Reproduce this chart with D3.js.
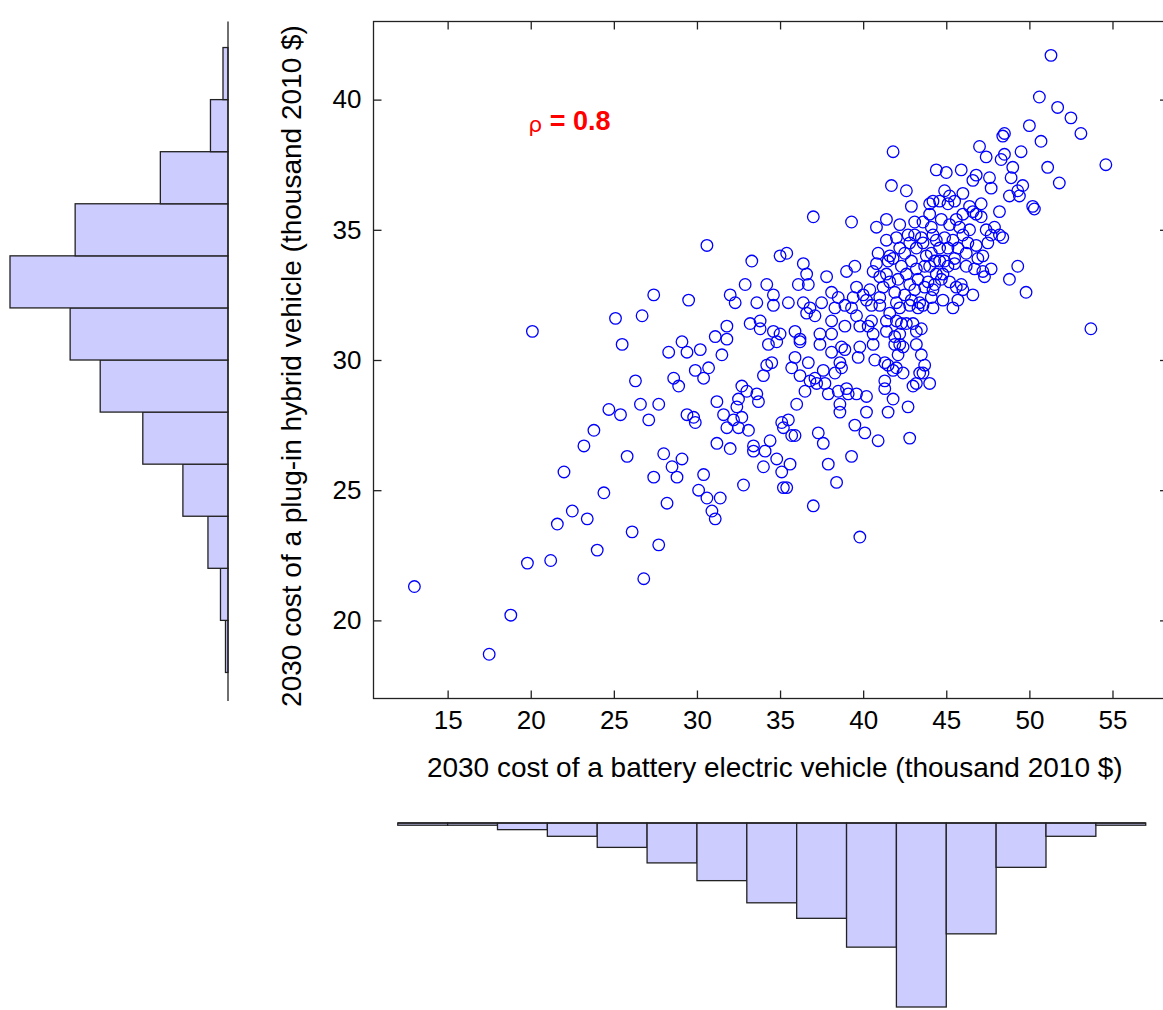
<!DOCTYPE html>
<html>
<head>
<meta charset="utf-8">
<script src="https://cdn.jsdelivr.net/npm/d3@7"></script>
<style>
  body { margin: 0; background: #fff; }
  svg { display: block; font-family: "Liberation Sans", Arial, sans-serif; }
</style>
</head>
<body>
<svg id="chart" width="1163" height="1010"></svg>
<script>
// 2030 cost pairs (thousand 2010 $): [battery electric, plug-in hybrid]
const costPairs = [
  [25.5,30.6],[28.3,30.3],[29.1,30.7],[29.4,30.3],[30.2,30.4],[31.5,30.2],[29.9,29.6],[30.7,29.7],[30.4,29.3],[26.3,29.2],
  [28.6,29.3],[28.9,29.0],[32.7,29.0],[33.0,28.8],[33.6,28.7],[33.7,28.4],[32.5,28.5],[31.2,28.4],[31.6,27.9],[32.4,28.2],
  [32.2,27.7],[32.7,27.8],[32.5,27.4],[31.8,27.4],[33.1,27.3],[33.4,26.7],[33.4,26.5],[34.1,26.5],[34.0,25.9],[34.4,26.9],
  [31.2,26.8],[32.0,26.6],[24.7,28.1],[25.4,27.9],[26.6,28.3],[27.7,28.3],[27.1,27.7],[29.4,27.9],[29.8,27.8],[29.9,27.6],
  [23.8,27.3],[23.2,26.7],[25.8,26.3],[28.0,26.4],[29.1,26.2],[28.5,25.9],[28.8,25.5],[27.4,25.5],[30.4,25.6],[22.0,25.7],
  [24.4,24.9],[30.1,25.0],[30.6,24.7],[31.4,24.7],[30.9,24.2],[31.1,23.9],[32.8,25.2],[22.5,24.2],[21.6,23.7],[23.4,23.9],
  [28.2,24.5],[26.1,23.4],[24.0,22.7],[27.7,22.9],[19.8,22.2],[21.2,22.3],[26.8,21.6],[13.0,21.3],[18.8,20.2],[17.5,18.7],
  [34.3,30.6],[34.2,29.8],[34.0,29.4],
  [30.6,34.4],[33.3,33.8],[32.9,32.9],[34.2,32.9],[27.4,32.5],[29.5,32.3],[32.0,32.5],[32.3,32.2],[33.6,32.2],[25.1,31.6],
  [26.7,31.7],[31.8,31.3],[33.2,31.4],[33.8,31.5],[33.8,31.2],[20.1,31.1],[31.1,30.9],[31.8,30.8],
  [34.8,30.7],[36.2,30.7],[37.4,30.6],[38.1,30.3],[38.7,30.5],[38.9,30.4],[39.8,30.5],[39.7,30.1],[40.6,30.6],[40.7,30.0],
  [41.3,29.9],[41.9,30.6],[42.2,30.6],[42.1,30.2],[42.4,30.5],[43.2,30.6],[43.5,30.2],[43.7,29.8],[43.6,29.5],[43.4,29.5],
  [44.0,29.1],[43.2,29.1],[43.0,29.0],[42.4,29.5],[41.8,29.6],[41.5,29.8],[41.3,29.2],[41.3,28.9],[41.8,28.5],[41.5,28.0],
  [42.7,28.2],[42.8,27.0],[40.2,28.6],[40.2,28.0],[39.5,27.5],[40.1,27.2],[40.9,26.9],[39.3,26.3],[38.4,25.3],[37.9,26.0],
  [37.6,26.8],[37.3,27.2],[37.0,24.4],[39.8,23.2],[35.9,30.1],[36.7,29.9],[35.7,29.7],[36.2,29.4],[37.6,29.6],[38.3,29.5],
  [36.8,29.2],[37.2,29.1],[37.7,29.1],[37.9,28.7],[38.5,28.8],[39.0,28.9],[39.1,28.7],[39.6,28.7],[38.6,28.3],[38.6,28.0],
  [36.5,28.8],[36.0,28.3],[35.5,27.7],[35.1,27.6],[35.2,27.4],[35.7,27.1],[35.9,27.1],[34.8,26.2],[35.6,26.0],[35.1,25.7],
  [35.2,25.1],[35.4,25.1],[34.5,29.9],[38.6,29.9],[38.7,29.7],[37.1,29.3],[42.0,29.7],
  [51.3,41.7],[50.6,40.1],[51.7,39.7],[52.5,39.3],[53.1,38.7],[50.0,39.0],[50.7,38.4],[51.1,37.4],[51.8,36.8],[54.6,37.5],
  [53.7,31.2],[48.5,38.7],[48.4,38.6],[47.0,38.2],[47.4,37.8],[48.5,37.9],[48.3,37.7],[49.5,38.0],[49.0,37.4],[48.9,37.0],
  [49.6,36.7],[49.3,36.5],[48.8,36.3],[49.4,36.3],[50.2,35.9],[50.3,35.8],[48.2,35.7],[41.8,38.0],[37.0,35.5],[39.3,35.3],
  [41.7,36.7],[42.6,36.5],[42.9,35.9],
  [44.4,37.3],[45.0,37.2],[45.9,37.3],[46.8,37.1],[46.6,36.9],[47.6,37.0],[47.7,36.6],[46.0,36.4],[44.9,36.5],[44.2,36.1],
  [44.6,36.1],[45.2,36.3],[45.5,36.1],[45.1,36.0],[46.4,35.9],[46.6,35.7],[46.8,35.6],[47.1,36.0],[46.0,35.6],[47.1,35.5],
  [44.7,35.4],[45.2,35.2],[45.6,35.4],[44.0,36.0],[44.0,35.6],[47.4,35.0],[47.9,35.1],[48.2,34.8],[48.4,34.7],[47.7,34.8],
  [46.8,34.4],[47.5,34.5],[47.2,34.0],[46.2,34.1],[46.9,33.9],[46.2,33.6],[46.7,33.5],[47.2,33.4],[47.7,33.5],[49.3,33.6],
  [48.8,33.1],[49.8,32.6],[46.6,32.5],[45.9,32.9],[46.0,32.7],[45.6,32.8],[45.2,33.0],[44.4,33.3],[44.8,33.3],[44.7,33.1],
  [44.3,32.9],[45.5,33.7],[44.9,33.8],[44.6,33.8],[45.1,33.6],[45.4,32.0],[45.7,32.3],[44.8,32.3],[44.2,32.0],
  [45.5,33.9],[45.7,34.3],[45.1,34.3],[44.6,34.3],[44.4,34.6],[44.9,34.7],[45.4,34.6],
  [36.4,32.2],[36.6,31.8],[37.1,31.7],[36.8,32.0],[37.5,32.2],[38.3,32.0],[38.9,32.1],[39.6,31.7],[39.8,31.3],[40.3,31.3],
  [40.5,32.1],[41.0,32.1],[40.5,31.5],[40.6,31.0],[41.6,31.8],[42.2,32.0],[42.8,32.1],[43.3,32.0],[41.4,31.5],[42.0,31.5],
  [42.3,31.4],[42.6,31.4],[43.0,31.4],[43.2,31.1],[43.5,31.2],[35.9,31.1],[36.2,30.8],[37.4,31.0],[38.1,31.0],[38.1,31.5],
  [38.9,31.3],[41.9,30.9],[39.3,32.0],[42.2,31.0],[41.4,31.1],[43.6,32.1],
  [34.6,32.1],[35.5,32.2],[34.6,32.5],[35.0,31.0],[34.6,31.1],[35.0,34.0],[35.4,34.1],
  [41.4,35.4],[40.8,35.1],[42.2,35.2],[43.1,35.3],[43.6,35.3],[36.4,33.7],[36.6,33.3],[36.1,32.9],[36.7,32.9],[37.8,33.2],
  [39.0,33.4],[39.5,33.6],[38.1,32.6],[38.5,32.4],[41.4,34.6],[42.0,34.7],[42.7,34.8],[43.1,34.8],[42.2,34.3],[42.8,34.5],
  [42.5,34.1],[43.2,34.3],[43.6,34.5],[40.9,34.1],[41.6,34.0],[41.5,33.8],[40.8,33.7],[40.6,33.4],[41.0,33.2],[41.4,33.3],
  [40.0,32.5],[39.6,32.8],[40.4,32.7],[40.2,32.3],[39.4,32.4],
  [41.8,33.9],[42.3,33.6],[42.9,33.8],[42.6,33.3],[43.2,33.5],[43.7,33.6],[41.6,33.0],[42.1,33.1],[42.8,32.9],[43.3,33.1],
  [43.9,33.0],[41.2,32.8],[41.9,32.6],[42.5,32.5],[43.1,32.7],[43.7,32.8],[41.0,32.4],[42.0,32.2],[42.9,32.3],[43.4,32.2],
  [43.8,34.0],[43.5,34.7],[44.1,35.1],[44.2,34.8],[44.1,34.1],[44.3,33.8],[44.0,33.6],[44.2,32.7],[44.1,32.4],
  [46.0,34.8],[46.4,35.0],[46.3,34.5],[45.8,35.1],[47.3,33.2]
];

// marginal histogram of the plug-in hybrid cost (left)
const phevBins = [18, 20, 22, 24, 26, 28, 30, 32, 34, 36, 38, 40, 42];
const phevCounts = [1, 3, 8, 18, 34, 51, 63, 87, 61, 27, 7, 2];

// marginal histogram of the battery electric cost (bottom)
const bevBins = [12, 15, 18, 21, 24, 27, 30, 33, 36, 39, 42, 45, 48, 51, 54, 57];
const bevCounts = [1, 1, 3, 6, 11, 18, 26, 36, 43, 56, 83, 50, 20, 6, 1];

const xTicks = [15, 20, 25, 30, 35, 40, 45, 50, 55];
const yTicks = [20, 25, 30, 35, 40];

const rhoText = "0.8";
const xTitle = "2030 cost of a battery electric vehicle (thousand 2010 $)";
const yTitle = "2030 cost of a plug-in hybrid vehicle (thousand 2010 $)";

const svg = d3.select("#chart");

const plotL = 373.5, plotR = 1168, plotT = 21.5, plotB = 698.5;

const x = d3.scaleLinear().domain([10.54, 58.34]).range([plotL, plotR]);
const y = d3.scaleLinear().domain([17, 43]).range([plotB, plotT]);

// ---- scatter axes (box with inward ticks) ----
const tickLen = 8;

svg.append("g")
  .attr("transform", `translate(0,${plotB})`)
  .call(d3.axisBottom(x).tickValues(xTicks).tickSizeInner(-tickLen).tickSizeOuter(0).tickPadding(12))
  .call(g => g.select(".domain").remove());

svg.append("g")
  .attr("transform", `translate(0,${plotT})`)
  .call(d3.axisTop(x).tickValues(xTicks).tickSizeInner(-tickLen).tickSizeOuter(0).tickFormat(""))
  .call(g => g.select(".domain").remove());

svg.append("g")
  .attr("transform", `translate(${plotL},0)`)
  .call(d3.axisLeft(y).tickValues(yTicks).tickSizeInner(-tickLen).tickSizeOuter(0).tickPadding(12))
  .call(g => g.select(".domain").remove());

svg.append("g")
  .attr("transform", `translate(${plotR},0)`)
  .call(d3.axisRight(y).tickValues(yTicks).tickSizeInner(-tickLen).tickSizeOuter(0).tickFormat(""))
  .call(g => g.select(".domain").remove());

svg.selectAll(".tick line").attr("stroke", "#222").attr("stroke-width", 1.3);
svg.selectAll(".tick text")
  .attr("font-size", 26)
  .attr("font-family", "Liberation Sans, Arial, sans-serif")
  .attr("fill", "#000");

svg.append("rect")
  .attr("x", plotL).attr("y", plotT)
  .attr("width", plotR - plotL).attr("height", plotB - plotT)
  .attr("fill", "none").attr("stroke", "#222").attr("stroke-width", 1.3);

// ---- points ----
svg.append("g")
  .selectAll("circle")
  .data(costPairs)
  .join("circle")
  .attr("cx", d => x(d[0]))
  .attr("cy", d => y(d[1]))
  .attr("r", 5.8)
  .attr("fill", "none")
  .attr("stroke", "#0000ff")
  .attr("stroke-width", 1.3);

// correlation note
const rho = svg.append("text")
  .attr("x", x(19.85))
  .attr("y", y(38.85))
  .attr("fill", "#ff0000")
  .attr("font-size", 27);
rho.append("tspan").attr("font-family", "DejaVu Sans, sans-serif").attr("font-size", 22).attr("dy", 2).text("ρ");
rho.append("tspan").attr("font-weight", "bold").attr("dy", -2).text(" = " + rhoText);

// axis titles
svg.append("text")
  .attr("x", (plotL + plotR) / 2 + 4)
  .attr("y", 777)
  .attr("text-anchor", "middle")
  .attr("font-size", 28)
  .text(xTitle);

svg.append("text")
  .attr("transform", `translate(301,${(plotT + plotB) / 2 + 6}) rotate(-90)`)
  .attr("text-anchor", "middle")
  .attr("font-size", 28)
  .text(yTitle);

// ---- left marginal histogram ----
const hLeft = d3.scaleLinear().domain([0, d3.max(phevCounts)]).range([228, 10]);

svg.append("g")
  .selectAll("rect")
  .data(phevCounts)
  .join("rect")
  .attr("x", d => hLeft(d))
  .attr("y", (d, i) => y(phevBins[i + 1]))
  .attr("width", d => hLeft(0) - hLeft(d))
  .attr("height", (d, i) => y(phevBins[i]) - y(phevBins[i + 1]))
  .attr("fill", "#ccccff")
  .attr("stroke", "#222")
  .attr("stroke-width", 1.3);

svg.append("line")
  .attr("x1", hLeft(0)).attr("x2", hLeft(0))
  .attr("y1", y(43)).attr("y2", y(16.9))
  .attr("stroke", "#222").attr("stroke-width", 1.3);

// ---- bottom marginal histogram ----
const hBottom = d3.scaleLinear().domain([0, d3.max(bevCounts)]).range([823, 1007]);

svg.append("g")
  .selectAll("rect")
  .data(bevCounts)
  .join("rect")
  .attr("x", (d, i) => x(bevBins[i]))
  .attr("y", hBottom(0))
  .attr("width", (d, i) => x(bevBins[i + 1]) - x(bevBins[i]))
  .attr("height", d => hBottom(d) - hBottom(0))
  .attr("fill", "#ccccff")
  .attr("stroke", "#222")
  .attr("stroke-width", 1.3);

svg.append("line")
  .attr("x1", x(bevBins[0])).attr("x2", x(bevBins[bevBins.length - 1]))
  .attr("y1", hBottom(0)).attr("y2", hBottom(0))
  .attr("stroke", "#222").attr("stroke-width", 1.3);
</script>
</body>
</html>
